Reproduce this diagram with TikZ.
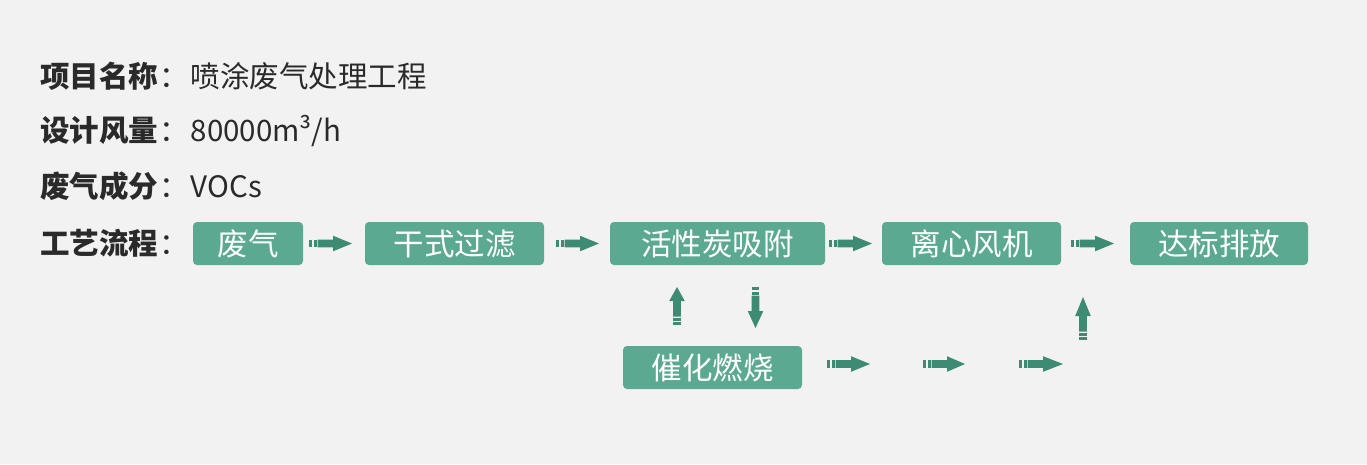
\documentclass[tikz,border=0pt]{standalone}
\usepackage{fontspec}
\setmainfont{Noto Sans CJK SC}
\definecolor{bg}{HTML}{F2F2F2}
\definecolor{boxg}{HTML}{5BA990}
\definecolor{arrg}{HTML}{3D8B73}
\definecolor{txt}{HTML}{2A2A2A}
\tikzset{
  info/.style={anchor=west,inner sep=0pt,font=\fontsize{29.5}{32}\selectfont,text=txt},
  stepbox/.style={draw=none,fill=boxg,rounded corners=4pt,text=white,
    font=\fontsize{30.5}{32}\selectfont,minimum height=43pt,inner sep=0pt},
  pics/flowarr/.style={code={
    \fill[arrg] (0,-3.8) rectangle (3,3.8);
    \fill[arrg] (4.5,-3.8) rectangle (7.5,3.8);
    \fill[arrg] (8.5,-3.8) -- (24,-3.8) -- (24,-7.8) -- (#1,0) -- (24,7.8) -- (24,3.8) -- (8.5,3.8) -- cycle;
  }},
}
\begin{document}
\begin{tikzpicture}[x=1pt,y=-1pt]
\fill[bg] (0,0) rectangle (1367,464);
\useasboundingbox (0,0) rectangle (1367,464);
\node[info] (l1) at (40,76) {{\bfseries 项目名称}\kern1pt：\kern2pt 喷涂废气处理工程};
\node[info] (l2) at (40,131) {{\bfseries 设计风量}\kern1pt：\kern2pt 80000m³/h};
\node[info] (l3) at (40,186) {{\bfseries 废气成分}\kern1pt：\kern2pt VOCs};
\node[info] (l4) at (40,243) {{\bfseries 工艺流程}\kern1pt：};
\node[stepbox,minimum width=110pt] (b1) at (248,243.5) {废气};
\node[stepbox,minimum width=179pt] (b2) at (454.5,243.5) {干式过滤};
\node[stepbox,minimum width=215pt] (b3) at (717.5,243.5) {活性炭吸附};
\node[stepbox,minimum width=179pt] (b4) at (971.5,243.5) {离心风机};
\node[stepbox,minimum width=178pt] (b5) at (1219,243.5) {达标排放};
\node[stepbox,minimum width=179pt] (b6) at (712.5,367.5) {催化燃烧};
\pic at (309,243.5) {flowarr=43};
\pic at (556,243.5) {flowarr=43};
\pic at (829,243.5) {flowarr=43};
\pic at (1071,243.5) {flowarr=43};
\pic[rotate=90] at (677,325) {flowarr=38};
\pic[rotate=-90] at (755.5,287) {flowarr=41};
\pic[rotate=90] at (1083,340) {flowarr=43};
\pic at (827,364) {flowarr=43};
\pic at (923,364) {flowarr=42};
\pic at (1019,364) {flowarr=44};
\end{tikzpicture}
\end{document}
